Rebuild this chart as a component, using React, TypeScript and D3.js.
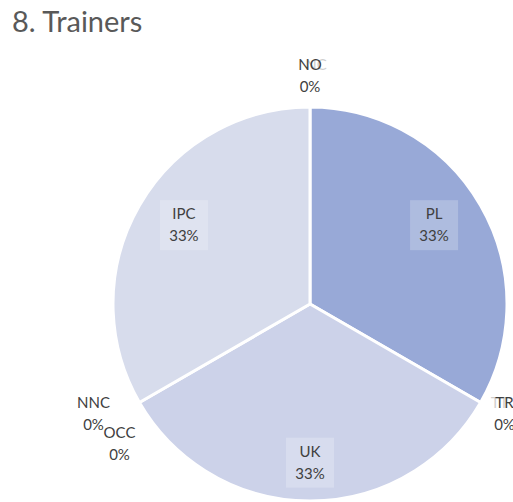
import React from "react";
import * as d3 from "d3";

const title = "8. Trainers";
const categories = ["PL", "TR", "TT", "UK", "NNC", "OCC", "IPC", "NO", "NC"];
const values = [1, 0, 0, 1, 0, 0, 1, 0, 0];
const colors = ["#98A9D7", "#C9CFE8", "#C9CFE8", "#CCD2E9", "#D0D5EA", "#D3D8EB", "#D7DCEC", "#D7DCEC", "#D7DCEC"];
// label nudges (layout only): dx, dy, opacity
const nudges: Record<string, [number, number, number]> = {
  PL: [-9, -2, 1],
  UK: [0, 5, 1],
  IPC: [7, -2, 1],
  TR: [0, -2, 1],
  TT: [-5, -2, 0.25],
  NNC: [-22, -2, 1],
  OCC: [4, 28, 1],
  NO: [0, -3, 1],
  NC: [6, -3, 0.25],
};

const W = 513, H = 502;
const cx = 310, cy = 304, R = 197;

export default function App() {
  const total = d3.sum(values);
  const pie = d3.pie<number>().sort(null).value((d) => d);
  const arcs = pie(values);
  const arc = d3.arc<d3.PieArcDatum<number>>().innerRadius(0).outerRadius(R);
  const labelArc = d3.arc<d3.PieArcDatum<number>>().innerRadius(R * 0.78).outerRadius(R * 0.78);
  const outArc = d3.arc<d3.PieArcDatum<number>>().innerRadius(R * 1.14).outerRadius(R * 1.14);
  const fmt = (v: number) => `${Math.round((v / total) * 100)}%`;
  const font = "Lato, 'Open Sans', sans-serif";
  return (
    <svg width={W} height={H} style={{ position: "absolute", left: 0, top: 0 }} fontFamily={font}>
      <rect width={W} height={H} fill="#ffffff" />
      <text x={12} y={32} fontSize={29} fill="#595959">{title}</text>
      <g transform={`translate(${cx},${cy})`}>
        {arcs.map((a, i) => (
          a.value > 0 ? (
            <path key={i} d={arc(a) || ""} fill={colors[i]} stroke="#ffffff" strokeWidth={3} strokeLinejoin="round" />
          ) : null
        ))}
        {arcs.map((a, i) => {
          if (a.value <= 0) return null;
          const [x0, y0] = labelArc.centroid(a);
          const [dx, dy] = nudges[categories[i]] || [0, 0, 1];
          return (
            <g key={"l" + i} transform={`translate(${x0 + dx},${y0 + dy})`}>
              <rect x={-24} y={-25} width={48} height={50} fill="#ffffff" fillOpacity={0.22} />
              <text y={-6} textAnchor="middle" fontSize={15} fill="#404040">{categories[i]}</text>
              <text y={16} textAnchor="middle" fontSize={15} fill="#404040">{fmt(a.value)}</text>
            </g>
          );
        })}
        {arcs.map((a, i) => {
          if (a.value > 0) return null;
          const [x0, y0] = outArc.centroid(a);
          const [dx, dy, op] = nudges[categories[i]] || [0, 0, 1];
          const faint = op < 1;
          return (
            <g key={"o" + i} transform={`translate(${x0 + dx},${y0 + dy})`} opacity={op}>
              <text y={-6} textAnchor="middle" fontSize={15} fill="#404040">{categories[i]}</text>
              {faint ? null : <text y={16} textAnchor="middle" fontSize={15} fill="#404040">{fmt(a.value)}</text>}
            </g>
          );
        })}
      </g>
    </svg>
  );
}
